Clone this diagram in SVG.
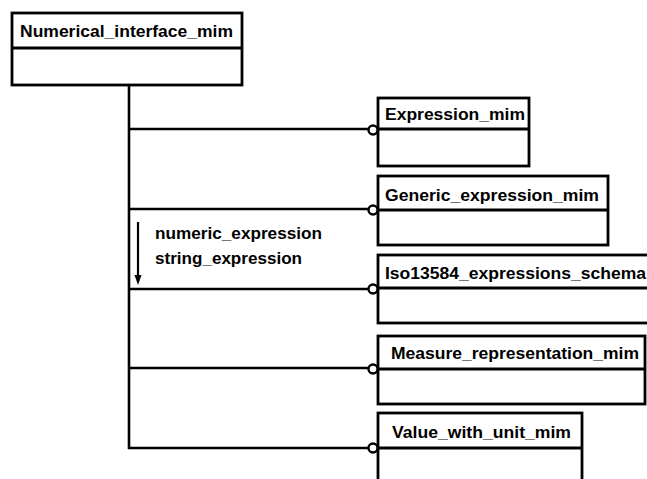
<svg xmlns="http://www.w3.org/2000/svg" width="647" height="479" viewBox="0 0 647 479">
<defs>
<style>
.box{fill:#fff;stroke:#000;stroke-width:2.8}
.div{stroke:#000;stroke-width:2.8}
.t{font-family:"Liberation Sans",Arial,sans-serif;font-weight:bold;font-size:16px;fill:#000}
.c{fill:none;stroke:#000;stroke-width:2.6}
.o{fill:#fff;stroke:#000;stroke-width:2.4}
</style>
</defs>
<rect width="647" height="479" fill="#fff"/>
<g id="connectors">
<line class="c" x1="129" y1="85" x2="129" y2="449"/>
<line class="c" x1="128" y1="129" x2="372" y2="129"/>
<line class="c" x1="128" y1="209" x2="372" y2="209"/>
<line class="c" x1="128" y1="289" x2="372" y2="289"/>
<line class="c" x1="128" y1="368" x2="372" y2="368"/>
<line class="c" x1="128" y1="448" x2="372" y2="448"/>
<line x1="138" y1="222" x2="138" y2="276" stroke="#000" stroke-width="2.2"/>
<path d="M134.5,275 L141.5,275 L138,285 Z" fill="#000"/>
<text class="t" x="155" y="239" textLength="167" lengthAdjust="spacingAndGlyphs">numeric_expression</text>
<text class="t" x="155" y="264" textLength="147" lengthAdjust="spacingAndGlyphs">string_expression</text>
</g>
<g id="Numerical_interface_mim">
<rect class="box" x="12" y="13" width="230" height="72"/>
<line class="div" x1="12" y1="48" x2="242" y2="48"/>
<text class="t" x="20" y="37" textLength="213" lengthAdjust="spacingAndGlyphs">Numerical_interface_mim</text>
</g>
<g id="Expression_mim">
<rect class="box" x="378" y="98" width="151" height="68"/>
<line class="div" x1="378" y1="129" x2="529" y2="129"/>
<text class="t" x="385" y="120" textLength="140" lengthAdjust="spacingAndGlyphs">Expression_mim</text>
<circle class="o" cx="373" cy="130" r="4.5"/>
</g>
<g id="Generic_expression_mim">
<rect class="box" x="378" y="176" width="230" height="69"/>
<line class="div" x1="378" y1="210" x2="608" y2="210"/>
<text class="t" x="385" y="201" textLength="214" lengthAdjust="spacingAndGlyphs">Generic_expression_mim</text>
<circle class="o" cx="373" cy="210" r="4.5"/>
</g>
<g id="Iso13584_expressions_schema">
<rect class="box" x="378" y="255" width="290" height="68"/>
<line class="div" x1="378" y1="288" x2="668" y2="288"/>
<text class="t" x="385" y="279" textLength="261" lengthAdjust="spacingAndGlyphs">Iso13584_expressions_schema</text>
<circle class="o" cx="373" cy="289" r="4.5"/>
</g>
<g id="Measure_representation_mim">
<rect class="box" x="378" y="336" width="267" height="68"/>
<line class="div" x1="378" y1="369" x2="645" y2="369"/>
<text class="t" x="391" y="359" textLength="248" lengthAdjust="spacingAndGlyphs">Measure_representation_mim</text>
<circle class="o" cx="373" cy="369" r="4.5"/>
</g>
<g id="Value_with_unit_mim">
<rect class="box" x="378" y="413" width="204" height="80"/>
<line class="div" x1="378" y1="448" x2="582" y2="448"/>
<text class="t" x="392" y="438" textLength="179" lengthAdjust="spacingAndGlyphs">Value_with_unit_mim</text>
<circle class="o" cx="373" cy="448" r="4.5"/>
</g>
</svg>
